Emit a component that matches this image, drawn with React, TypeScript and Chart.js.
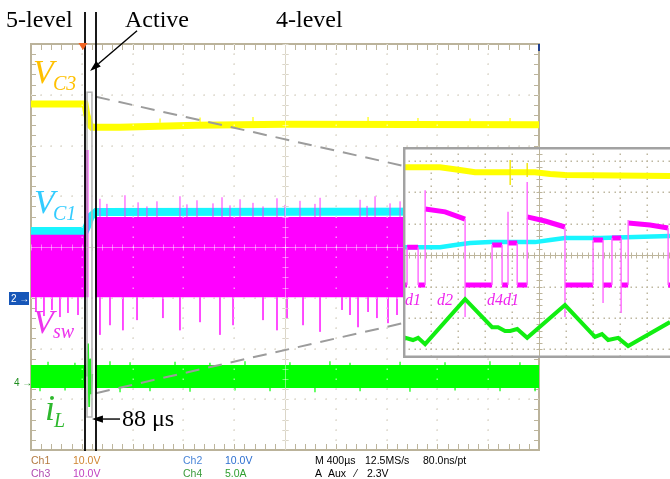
import React, { useEffect, useRef } from 'react';
import { Chart, registerables } from 'chart.js';

Chart.register(...registerables);

// ================= MAIN SCREEN: time in µs (400 µs/div), amplitude in divisions =================
const timeMin = 0;
const timeMax = 4000;
const divMin = -4;
const divMax = 4;
const activeLineTimes = [425, 512]; // "Active" instant and 88 µs later
const triggerTime = 409;

// V_C3 (yellow)
const vc3Times = [0, 425, 440, 465, 480, 700, 1300, 2000, 4000];
const vc3Values = [2.82, 2.82, 2.6, 2.4, 2.36, 2.36, 2.4, 2.42, 2.41];
const vc3SpikeTimes = [1016, 1331, 1748, 2654, 3047, 3457, 3772];
const vc3SpikeTips = [2.53, 2.55, 2.56, 2.56, 2.54, 2.53, 2.54];

// V_C1 (cyan)
const vc1Times = [0, 425, 440, 470, 512, 4000];
const vc1Values = [0.315, 0.315, 0.4, 0.6, 0.69, 0.7];

// V_sw (magenta switching band)
const vswTimes = [0, 425, 425, 452, 452, 508, 508, 4000];
const vswUpper = [0.24, 0.24, 1.91, 1.91, -0.99, -0.99, 0.59, 0.59];
const vswLower = [-0.99, -0.99, -0.99, -0.99, -0.99, -0.99, -0.99, -0.99];
const vswUpSpikeTimes = [543, 598, 740, 843, 913, 992, 1173, 1228, 1307, 1433, 1504, 1567, 1646, 1748, 1827, 1937, 2000, 2118, 2236, 2276, 2591, 2646, 2709, 2827, 2906];
const vswUpSpikeTips = [0.95, 0.85, 1.02, 0.88, 0.8, 0.9, 1.0, 0.84, 0.92, 0.86, 0.98, 0.82, 0.94, 0.87, 0.8, 0.96, 0.83, 0.91, 0.85, 0.97, 0.93, 0.81, 1.0, 0.86, 0.9];
const vswDownSpikeTimes = [39, 102, 165, 228, 291, 370, 543, 622, 724, 835, 1039, 1173, 1331, 1488, 1591, 1827, 1937, 2016, 2142, 2276, 2449, 2512, 2575, 2654, 2724, 2811, 2882];
const vswDownSpikeTips = [-1.28, -1.36, -1.24, -1.38, -1.3, -1.34, -1.73, -1.54, -1.64, -1.44, -1.4, -1.64, -1.48, -1.73, -1.54, -1.44, -1.64, -1.4, -1.54, -1.67, -1.24, -1.34, -1.58, -1.28, -1.4, -1.5, -1.34];

// i_L (green band)
const iLTimes = [0, 433, 433, 505, 505, 4000];
const iLUpper = [-2.325, -2.325, -2.78, -2.78, -2.325, -2.325];
const iLLower = [-2.78, -2.78, -2.78, -2.78, -2.78, -2.78];
const iLTopSpikeTimes = [134, 346, 622, 780, 1134, 1409, 1685, 2039, 2354, 2512, 2906, 3260, 3614, 3850];
const iLTopSpikeTips = [-2.26, -2.28, -2.25, -2.27, -2.26, -2.28, -2.25, -2.27, -2.25, -2.28, -2.26, -2.27, -2.25, -2.27];
const iLBottomSpikeTimes = [71, 268, 701, 937, 1252, 1606, 1882, 2236, 2591, 2984, 3339, 3693, 3969];
const iLBottomSpikeTips = [-2.84, -2.83, -2.86, -2.84, -2.85, -2.83, -2.84, -2.86, -2.84, -2.85, -2.83, -2.84, -2.84];
const iLTransientTimes = [440, 449, 458, 466, 474, 482];
const iLTransientValues = [-2.55, -1.9, -3.15, -2.2, -2.9, -2.5];

// annotation geometry in data units (time µs, div)
const zoomRectTimes = [441, 480];
const zoomRectDivs = [3.05, -3.35];
const guideLines = [
  [512, 2.96, 2929, 1.6],
  [512, -2.88, 2929, -1.5],
];
const activeArrow = [835, 4.26, 465, 3.47];
const delayArrow = [701, -3.39, 480, -3.39];
const markerSpan = [4.63, -4.02];

// ================= INSET (zoomed), x and y in divisions =================
const insetXRange = [-5.04, 4.85];
const insetYRange = [-3.27, 3.43];

const insetVc3X = [-5.04, -3.67, -2.93, -2.37, -0.15, 0.41, 0.96, 4.85];
const insetVc3Y = [2.79, 2.79, 2.7, 2.63, 2.63, 2.57, 2.54, 2.51];
const insetVc3SpikeX = [-1.07, -0.44];
const insetVc3SpikeLow = [2.22, 2.48];
const insetVc3SpikeHigh = [3.02, 2.92];

const insetVc1X = [-5.04, -3.67, -3.11, -2.56, -1.81, -0.15, 0.41, 0.96, 2.26, 4.85];
const insetVc1Y = [0.25, 0.25, 0.32, 0.38, 0.41, 0.41, 0.48, 0.54, 0.54, 0.6];

// V_sw levels: each segment is a list of [x, y]
const insetVswLevels: number[][][] = [
  [[-5.04, -0.95], [-4.89, -0.95]],
  [[-4.89, 0.25], [-4.48, 0.25]],
  [[-4.48, -0.95], [-4.22, -0.95]],
  [[-4.22, 1.46], [-3.48, 1.37], [-2.74, 1.14]],
  [[-2.74, -0.95], [-1.74, -0.95]],
  [[-1.74, 0.32], [-1.37, 0.32]],
  [[-1.37, -0.95], [-1.15, -0.95]],
  [[-1.15, 0.38], [-0.81, 0.38]],
  [[-0.81, -0.95], [-0.44, -0.95]],
  [[-0.44, 1.21], [0.22, 1.08], [0.96, 0.89]],
  [[0.96, -0.95], [2.0, -0.95]],
  [[2.0, 0.48], [2.37, 0.48]],
  [[2.37, -0.95], [2.7, -0.95]],
  [[2.7, 0.54], [3.04, 0.54]],
  [[3.04, -0.95], [3.3, -0.95]],
  [[3.3, 1.02], [4.11, 0.95], [4.78, 0.86]],
  [[4.78, -0.95], [4.85, -0.95]],
];
// V_sw switching edges and ringing: [x, from, to]
const insetVswEdges: number[][] = [
  [-4.89, -0.95, 0.25], [-4.48, 0.25, -0.95], [-4.22, -0.95, 2.06], [-2.74, 1.14, -1.97],
  [-1.74, -0.95, 0.32], [-1.37, 0.32, -0.95], [-1.15, -0.95, 1.37], [-0.81, 0.38, -0.95],
  [-0.44, -0.95, 2.32], [0.96, 0.89, -1.97], [2.0, -0.95, 0.48], [2.37, 0.48, -1.52],
  [2.7, -0.95, 0.54], [3.04, 0.54, -1.84], [3.3, -0.95, 1.11], [4.78, 0.86, -0.95],
];

const insetILX = [-5.04, -4.96, -4.67, -4.48, -4.22, -2.74, -1.74, -1.52, -1.26, -1.07, -0.81, -0.44, 0.96, 2.07, 2.33, 2.56, 2.93, 3.3, 4.85];
const insetILY = [-2.7, -2.63, -2.7, -2.63, -2.83, -1.4, -2.29, -2.29, -2.41, -2.41, -2.35, -2.63, -1.59, -2.6, -2.51, -2.7, -2.63, -2.89, -2.13];

// ================= helpers =================
const SERIF = "'Liberation Serif', 'Times New Roman', serif";
const SANS = "'Liberation Sans', Arial, sans-serif";

const xy = (xs: number[], ys: number[]) => xs.map((x, i) => ({ x, y: ys[i] }));
const spikes = (ts: number[], tips: number[], edge: number) => {
  const out: any[] = [];
  ts.forEach((t, i) => out.push({ x: t, y: edge }, { x: t, y: tips[i] }, { x: t, y: null }));
  return out;
};
const verticals = (items: number[][]) => {
  const out: any[] = [];
  items.forEach(([x, a, b]) => out.push({ x, y: a }, { x, y: b }, { x, y: null }));
  return out;
};
const segments = (segs: number[][][]) => {
  const out: any[] = [];
  segs.forEach((s, i) => {
    s.forEach(([x, y]) => out.push({ x, y }));
    if (i < segs.length - 1) out.push({ x: s[s.length - 1][0], y: null });
  });
  return out;
};

const line = (data: any[], color: string, width: number, order: number, extra: any = {}) => ({
  type: 'line',
  data,
  borderColor: color,
  backgroundColor: color,
  borderWidth: width,
  pointRadius: 0,
  tension: 0,
  spanGaps: false,
  clip: 0,
  order,
  ...extra,
});

type GridSpec = {
  xCenter: number; xStep: number; yCenter: number; yStep: number;
  centerTick: number; edgeTick: number; border: boolean;
};

function drawGrid(chart: any, g: GridSpec, overlay: boolean) {
  const ctx = chart.ctx;
  const xs = chart.scales.x;
  const ys = chart.scales.y;
  const a = chart.chartArea;
  const tan = overlay ? 'rgba(255,255,255,0.45)' : '#BDB59C';
  const dot = overlay ? 'rgba(255,255,255,0.55)' : '#BEB7A0';
  ctx.save();
  ctx.beginPath();
  ctx.rect(a.left, a.top, a.right - a.left, a.bottom - a.top);
  ctx.clip();
  const kx0 = Math.ceil((xs.min - g.xCenter) / g.xStep - 1e-6);
  const kx1 = Math.floor((xs.max - g.xCenter) / g.xStep + 1e-6);
  const ky0 = Math.ceil((ys.min - g.yCenter) / g.yStep - 1e-6);
  const ky1 = Math.floor((ys.max - g.yCenter) / g.yStep + 1e-6);
  const mx0 = Math.ceil((xs.min - g.xCenter) / (g.xStep / 5) - 1e-6);
  const mx1 = Math.floor((xs.max - g.xCenter) / (g.xStep / 5) + 1e-6);
  const my0 = Math.ceil((ys.min - g.yCenter) / (g.yStep / 5) - 1e-6);
  const my1 = Math.floor((ys.max - g.yCenter) / (g.yStep / 5) + 1e-6);
  const X = (k: number, f = 1) => xs.getPixelForValue(g.xCenter + (k * g.xStep) / f);
  const Y = (k: number, f = 1) => ys.getPixelForValue(g.yCenter + (k * g.yStep) / f);
  // dotted major lines
  ctx.fillStyle = dot;
  for (let i = kx0; i <= kx1; i++) {
    if (i === 0) continue;
    const px = Math.round(X(i));
    if (px - a.left < 3 || a.right - px < 3) continue;
    for (let j = my0; j <= my1; j++) ctx.fillRect(px - 0.5, Math.round(Y(j, 5)) - 0.5, 1.5, 1.5);
  }
  for (let j = ky0; j <= ky1; j++) {
    if (j === 0) continue;
    const py = Math.round(Y(j));
    if (py - a.top < 3 || a.bottom - py < 3) continue;
    for (let i = mx0; i <= mx1; i++) ctx.fillRect(Math.round(X(i, 5)) - 0.5, py - 0.5, 1.5, 1.5);
  }
  // centre cross with ticks
  ctx.strokeStyle = tan;
  ctx.lineWidth = 1;
  const cx = Math.round(X(0)) + 0.5;
  const cy = Math.round(Y(0)) + 0.5;
  ctx.beginPath();
  ctx.moveTo(cx, a.top); ctx.lineTo(cx, a.bottom);
  ctx.moveTo(a.left, cy); ctx.lineTo(a.right, cy);
  for (let i = mx0; i <= mx1; i++) {
    const px = Math.round(X(i, 5)) + 0.5;
    ctx.moveTo(px, cy - g.centerTick); ctx.lineTo(px, cy + g.centerTick);
  }
  for (let j = my0; j <= my1; j++) {
    const py = Math.round(Y(j, 5)) + 0.5;
    ctx.moveTo(cx - g.centerTick, py); ctx.lineTo(cx + g.centerTick, py);
  }
  ctx.stroke();
  if (g.border && !overlay) {
    ctx.beginPath();
    for (let i = mx0; i <= mx1; i++) {
      const px = Math.round(X(i, 5)) + 0.5;
      ctx.moveTo(px, a.top); ctx.lineTo(px, a.top + g.edgeTick);
      ctx.moveTo(px, a.bottom); ctx.lineTo(px, a.bottom - g.edgeTick);
    }
    for (let j = my0; j <= my1; j++) {
      const py = Math.round(Y(j, 5)) + 0.5;
      ctx.moveTo(a.left, py); ctx.lineTo(a.left + g.edgeTick - 1, py);
      ctx.moveTo(a.right, py); ctx.lineTo(a.right - g.edgeTick + 1, py);
    }
    ctx.stroke();
  }
  ctx.restore();
  if (g.border && !overlay) {
    ctx.save();
    ctx.strokeStyle = '#BBB39B';
    ctx.lineWidth = 2;
    ctx.strokeRect(a.left, a.top, a.right - a.left, a.bottom - a.top);
    ctx.restore();
  }
}

function arrow(ctx: CanvasRenderingContext2D, x0: number, y0: number, x1: number, y1: number, width: number) {
  const ang = Math.atan2(y1 - y0, x1 - x0);
  const len = 11;
  const half = 3.6;
  const bx = x1 - len * Math.cos(ang);
  const by = y1 - len * Math.sin(ang);
  ctx.strokeStyle = '#000';
  ctx.fillStyle = '#000';
  ctx.lineWidth = width;
  ctx.beginPath();
  ctx.moveTo(x0, y0);
  ctx.lineTo(bx, by);
  ctx.stroke();
  ctx.beginPath();
  ctx.moveTo(x1, y1);
  ctx.lineTo(bx + half * Math.sin(ang), by - half * Math.cos(ang));
  ctx.lineTo(bx - half * Math.sin(ang), by + half * Math.cos(ang));
  ctx.closePath();
  ctx.fill();
}

const MAIN_GRID: GridSpec = { xCenter: 2000, xStep: 400, yCenter: 0, yStep: 1, centerTick: 3, edgeTick: 6, border: true };
const INSET_GRID: GridSpec = { xCenter: 0, xStep: 1, yCenter: 0, yStep: 1, centerTick: 3, edgeTick: 0, border: false };

const mainDecor = {
  id: 'mainDecor',
  beforeDatasetsDraw(chart: any) {
    drawGrid(chart, MAIN_GRID, false);
  },
  afterDatasetsDraw(chart: any) {
    drawGrid(chart, MAIN_GRID, true);
    const ctx: CanvasRenderingContext2D = chart.ctx;
    const xs = chart.scales.x;
    const ys = chart.scales.y;
    const X = (t: number) => xs.getPixelForValue(t);
    const Y = (v: number) => ys.getPixelForValue(v);
    const a = chart.chartArea;
    ctx.save();
    // zoom window
    ctx.strokeStyle = '#B4B4B4';
    ctx.lineWidth = 1.5;
    ctx.strokeRect(X(zoomRectTimes[0]), Y(zoomRectDivs[0]), X(zoomRectTimes[1]) - X(zoomRectTimes[0]), Y(zoomRectDivs[1]) - Y(zoomRectDivs[0]));
    // dashed guides to the inset
    ctx.setLineDash([14, 9]);
    ctx.strokeStyle = '#9C9C9C';
    ctx.lineWidth = 2;
    guideLines.forEach(([t0, v0, t1, v1]) => {
      ctx.beginPath();
      ctx.moveTo(X(t0), Y(v0));
      ctx.lineTo(X(t1), Y(v1));
      ctx.stroke();
    });
    ctx.setLineDash([]);
    // marker lines
    ctx.strokeStyle = '#000';
    ctx.lineWidth = 1.8;
    activeLineTimes.forEach((t) => {
      const x = Math.round(X(t));
      ctx.beginPath();
      ctx.moveTo(x, Y(markerSpan[0]));
      ctx.lineTo(x, Y(markerSpan[1]));
      ctx.stroke();
    });
    arrow(ctx, X(activeArrow[0]), Y(activeArrow[1]), X(activeArrow[2]), Y(activeArrow[3]), 1.4);
    arrow(ctx, X(delayArrow[0]), Y(delayArrow[1]), X(delayArrow[2]), Y(delayArrow[3]), 1.4);
    // trigger marker
    const tx = X(triggerTime);
    ctx.fillStyle = '#F26522';
    ctx.beginPath();
    ctx.moveTo(tx - 4.5, a.top - 1);
    ctx.lineTo(tx + 4.5, a.top - 1);
    ctx.lineTo(tx, a.top + 6);
    ctx.closePath();
    ctx.fill();
    // right-top marker
    ctx.fillStyle = '#1F3F8F';
    ctx.fillRect(a.right - 1, a.top, 2, 7);
    ctx.restore();
  },
};

const insetDecor = {
  id: 'insetDecor',
  beforeDraw(chart: any) {
    const ctx: CanvasRenderingContext2D = chart.ctx;
    ctx.save();
    ctx.fillStyle = '#FFFFFF';
    ctx.fillRect(0, 0, chart.width, chart.height);
    ctx.restore();
  },
  beforeDatasetsDraw(chart: any) {
    drawGrid(chart, INSET_GRID, false);
  },
  afterDatasetsDraw(chart: any) {
    const ctx: CanvasRenderingContext2D = chart.ctx;
    const a = chart.chartArea;
    ctx.save();
    ctx.strokeStyle = '#A2A2A2';
    ctx.lineWidth = 2.5;
    ctx.beginPath();
    ctx.moveTo(a.right + 5, a.top + 1.2);
    ctx.lineTo(a.left + 1.2, a.top + 1.2);
    ctx.lineTo(a.left + 1.2, a.bottom - 1.2);
    ctx.lineTo(a.right + 5, a.bottom - 1.2);
    ctx.stroke();
    ctx.restore();
  },
};

function mainConfig(): any {
  return {
    type: 'line',
    data: {
      datasets: [
        line(xy(vc3Times, vc3Values), '#FFFF00', 7, 20),
        line(spikes(vc3SpikeTimes, vc3SpikeTips, 2.45), '#FFFF00', 1.2, 19),
        line(xy(vc1Times, vc1Values), '#19F5FF', 8, 18),
        line(xy(vswTimes, vswUpper), 'rgba(0,0,0,0)', 0.1, 17, { fill: '+1', backgroundColor: '#FF00FF' }),
        line(xy(vswTimes, vswLower), 'rgba(0,0,0,0)', 0.1, 16),
        line(spikes(vswUpSpikeTimes, vswUpSpikeTips, 0.59), '#FF33FF', 1, 15),
        line(spikes(vswDownSpikeTimes, vswDownSpikeTips, -0.99), '#FF33FF', 1, 14),
        line(xy(iLTimes, iLUpper), 'rgba(0,0,0,0)', 0.1, 13, { fill: '+1', backgroundColor: '#00FF00' }),
        line(xy(iLTimes, iLLower), 'rgba(0,0,0,0)', 0.1, 12),
        line(spikes(iLTopSpikeTimes, iLTopSpikeTips, -2.325), '#00FF00', 1.2, 11),
        line(spikes(iLBottomSpikeTimes, iLBottomSpikeTips, -2.78), '#00FF00', 1.2, 10),
        line(xy(iLTransientTimes, iLTransientValues), '#22EE22', 1.8, 9),
      ],
    },
    options: {
      responsive: false,
      animation: false,
      events: [],
      layout: { padding: { left: 31, right: 131, top: 44, bottom: 29 } },
      scales: {
        x: { type: 'linear', min: timeMin, max: timeMax, display: false, offset: false },
        y: { type: 'linear', min: divMin, max: divMax, display: false },
      },
      plugins: { legend: { display: false }, tooltip: { enabled: false } },
    },
    plugins: [mainDecor],
  };
}

function insetConfig(): any {
  return {
    type: 'line',
    data: {
      datasets: [
        line(xy(insetVc3X, insetVc3Y), '#FFFF00', 6, 20),
        line(verticals(insetVc3SpikeX.map((x, i) => [x, insetVc3SpikeLow[i], insetVc3SpikeHigh[i]])), '#F2E600', 1.4, 19),
        line(xy(insetVc1X, insetVc1Y), '#19F5FF', 4.5, 18),
        line(segments(insetVswLevels), '#FF00FF', 5, 17),
        line(verticals(insetVswEdges), '#FF66FF', 1.4, 16),
        line(xy(insetILX, insetILY), '#11EE11', 4, 15),
      ],
    },
    options: {
      responsive: false,
      animation: false,
      events: [],
      layout: { padding: 0 },
      scales: {
        x: { type: 'linear', min: insetXRange[0], max: insetXRange[1], display: false },
        y: { type: 'linear', min: insetYRange[0], max: insetYRange[1], display: false },
      },
      plugins: { legend: { display: false }, tooltip: { enabled: false } },
    },
    plugins: [insetDecor],
  };
}

// ================= text overlay =================
function Txt(props: { x: number; base: number; size: number; color?: string; italic?: boolean; family?: string; children: any }) {
  const family = props.family || SERIF;
  const k = family === SERIF ? 0.8375 : 0.8465;
  return (
    <div
      style={{
        position: 'absolute',
        left: props.x,
        top: props.base - k * props.size,
        fontSize: props.size,
        lineHeight: `${props.size}px`,
        fontFamily: family,
        fontStyle: props.italic ? 'italic' : 'normal',
        color: props.color || '#000',
        whiteSpace: 'nowrap',
      }}
    >
      {props.children}
    </div>
  );
}

const headings = [
  { text: '5-level', x: 6, base: 27 },
  { text: 'Active', x: 125, base: 27 },
  { text: '4-level', x: 276, base: 27 },
  { text: '88 μs', x: 122, base: 426 },
];

const traceLabels = [
  { main: 'V', sub: 'C3', x: 33, base: 83, subX: 53, subBase: 90, color: '#FFC000', mainSize: 34 },
  { main: 'V', sub: 'C1', x: 34, base: 213, subX: 53, subBase: 220, color: '#33CCFF', mainSize: 34 },
  { main: 'V', sub: 'sw', x: 33, base: 333, subX: 53, subBase: 338, color: '#EE33EE', mainSize: 34 },
  { main: 'i', sub: 'L', x: 45, base: 420, subX: 54, subBase: 427, color: '#2DB82D', mainSize: 36 },
];

const insetLabels = [
  { text: 'd1', x: 405 },
  { text: 'd2', x: 437 },
  { text: 'd4d1', x: 487 },
];

const statusRow1 = [
  { text: 'Ch1', x: 31, color: '#B47A40' },
  { text: '10.0V', x: 73, color: '#D08530' },
  { text: 'Ch2', x: 183, color: '#4A86D8' },
  { text: '10.0V', x: 225, color: '#2C6FD0' },
  { text: 'M 400µs', x: 315, color: '#000' },
  { text: '12.5MS/s', x: 365, color: '#000' },
  { text: '80.0ns/pt', x: 423, color: '#000' },
];
const statusRow2 = [
  { text: 'Ch3', x: 31, color: '#B04CB0' },
  { text: '10.0V', x: 73, color: '#C040C0' },
  { text: 'Ch4', x: 183, color: '#3C9C3C' },
  { text: '5.0A', x: 225, color: '#30A030' },
  { text: 'A', x: 315, color: '#000' },
  { text: 'Aux', x: 328, color: '#000' },
  { text: '⁄', x: 355, color: '#000' },
  { text: '2.3V', x: 367, color: '#000' },
];

export default function App() {
  const mainRef = useRef<HTMLCanvasElement>(null);
  const insetRef = useRef<HTMLCanvasElement>(null);

  useEffect(() => {
    const main = new Chart(mainRef.current as HTMLCanvasElement, mainConfig());
    const inset = new Chart(insetRef.current as HTMLCanvasElement, insetConfig());
    return () => {
      main.destroy();
      inset.destroy();
    };
  }, []);

  return (
    <div style={{ position: 'fixed', left: 0, top: 0, width: 670, height: 479, background: '#fff', overflow: 'hidden' }}>
      <canvas ref={mainRef} width={670} height={479} style={{ position: 'absolute', left: 0, top: 0, width: 670, height: 479 }} />
      <canvas ref={insetRef} width={267} height={211} style={{ position: 'absolute', left: 403, top: 147, width: 267, height: 211, background: '#fff' }} />
      {headings.map((h) => (
        <Txt key={h.text} x={h.x} base={h.base} size={24}>{h.text}</Txt>
      ))}
      {traceLabels.map((l) => (
        <React.Fragment key={l.sub}>
          <Txt x={l.x} base={l.base} size={l.mainSize} color={l.color} italic>{l.main}</Txt>
          <Txt x={l.subX} base={l.subBase} size={20} color={l.color} italic>{l.sub}</Txt>
        </React.Fragment>
      ))}
      {insetLabels.map((l) => (
        <Txt key={l.text} x={l.x} base={305} size={16} color="#EE22EE" italic>{l.text}</Txt>
      ))}
      {statusRow1.map((s, i) => (
        <Txt key={'r1' + i} x={s.x} base={464} size={10.5} color={s.color} family={SANS}>{s.text}</Txt>
      ))}
      {statusRow2.map((s, i) => (
        <Txt key={'r2' + i} x={s.x} base={477} size={10.5} color={s.color} family={SANS}>{s.text}</Txt>
      ))}
      <div style={{ position: 'absolute', left: 9, top: 292, width: 20, height: 13, background: '#1656B8', color: '#fff', fontFamily: SANS, fontSize: 10, lineHeight: '13px', paddingLeft: 2, boxSizing: 'border-box', whiteSpace: 'nowrap' }}>2 →</div>
      <Txt x={14} base={386} size={10} color="#1E8E1E" family={SANS}>4 →</Txt>
    </div>
  );
}
